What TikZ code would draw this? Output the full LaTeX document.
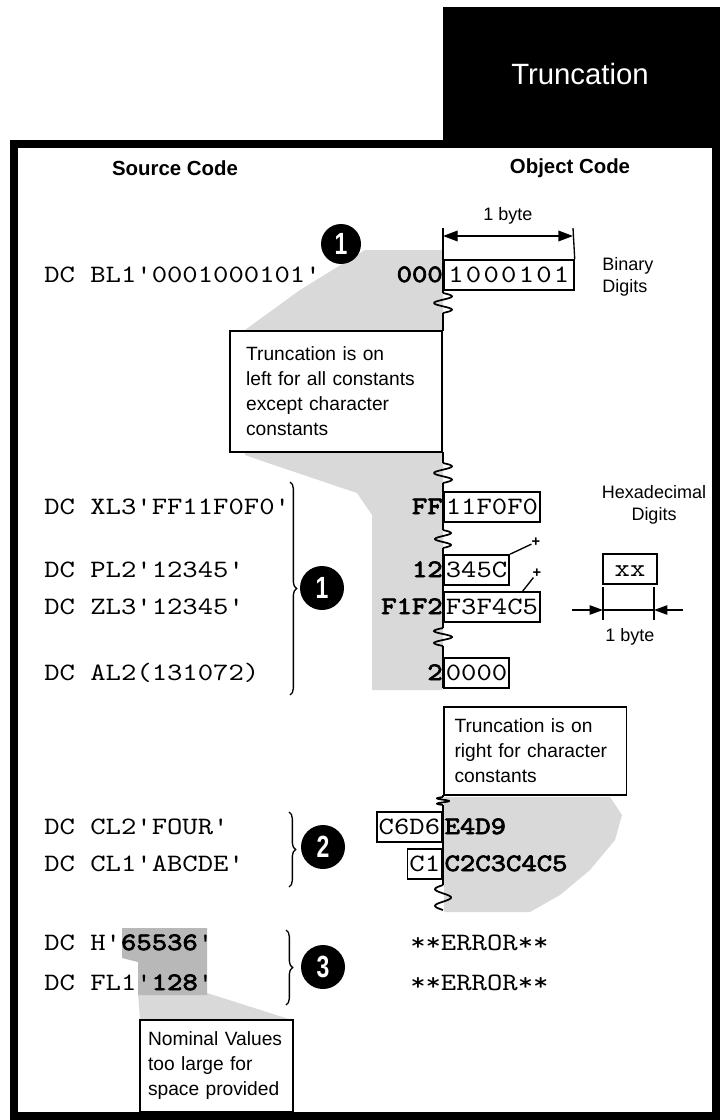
\documentclass[tikz,border=0pt]{standalone}
\usepackage{fontspec}
\setsansfont{Liberation Sans}
\setmonofont{lmmono10-regular.otf}[FakeStretch=1.17, BoldFont=lmmono10-regular.otf, BoldFeatures={FakeBold=3}]
\newfontfamily\numfont{Liberation Sans}[FakeStretch=0.75]
\usepackage{tikz}
\usetikzlibrary{arrows.meta,decorations.pathreplacing,positioning,calc}
\definecolor{stippled}{gray}{0.85}
\definecolor{stippledark}{gray}{0.72}

\begin{document}
\begin{tikzpicture}[x=0.75pt, y=-0.75pt,
    code/.style={font=\fontsize{18.75}{20}\selectfont\ttfamily, inner sep=0pt},
    src/.style={code, anchor=base west},
    cut/.style={font=\fontsize{18.75}{20}\selectfont\ttfamily\bfseries, inner sep=0pt, anchor=base east},
    tail/.style={font=\fontsize{18.75}{20}\selectfont\ttfamily\bfseries, inner xsep=1pt, inner ysep=0pt, anchor=base west},
    kept/.style={code, draw, line width=1.3pt, anchor=base west, inner xsep=1.5pt, inner ysep=1.5pt, text height=15pt, text depth=4.5pt},
    keptleft/.style={kept, anchor=base east},
    head/.style={font=\fontsize{15.3}{18}\selectfont\sffamily\bfseries},
    title/.style={text=white, font=\fontsize{22}{26}\selectfont\sffamily},
    note/.style={draw, line width=1.3pt, fill=white, align=left, inner ysep=0pt, font=\fontsize{14.4}{18.75}\selectfont\sffamily},
    small/.style={font=\fontsize{13.5}{17}\selectfont\sffamily, inner sep=0pt},
    plus/.style={font=\fontsize{11}{11}\selectfont\sffamily\bfseries, inner sep=0pt},
    numdot/.style={circle, fill=black, text=white, inner sep=0pt, minimum size=33pt, font=\fontsize{23}{23}\selectfont\numfont\bfseries},
    curly/.style={decorate, decoration={brace, amplitude=5pt}, line width=1pt},
    trunc/.style={line width=1.3pt},
    dim/.style={line width=1pt}
]
    \useasboundingbox (0,0) rectangle (720,1120);

    % Stippled zones
    \fill[stippled] (443,250) -- (365,250) -- (300,290) -- (245,330) -- (245,455) -- (265,462) -- (357,493) -- (372,515) -- (372,690) -- (443,690) -- cycle;
    \fill[stippled] (444,797) -- (610,797) -- (622,815) -- (615,840) -- (590,870) -- (560,895) -- (530,912) -- (444,912) -- cycle;
    \fill[stippled] (138,993) -- (207,993) -- (292,1020) -- (140,1020) -- cycle;
    \fill[stippledark] (122,928) -- (207,928) -- (207,995) -- (138,995) -- (138,962) -- (122,958) -- cycle;

    % Frame and title tab
    \draw[line width=5.5pt] (14,144) rectangle (716,1116);
    \fill (443,7) rectangle (720,146);
    \node[title] (title) at (580,74) {Truncation};

    % Column heads
    \node[head] (srchead) at (175,168) {Source Code};
    \node[head] (objhead) at (570,168) {Object Code};

    % Source statements
    \node[src] (bl1) at (44,282) {DC BL1'0001000101'};
    \node[src] (xl3) at (44,514) {DC XL3'FF11F0F0'};
    \node[src] (pl2) at (44,577) {DC PL2'12345'};
    \node[src] (zl3) at (44,614) {DC ZL3'12345'};
    \node[src] (al2) at (44,680) {DC AL2(131072)};
    \node[src] (cl2) at (44,834) {DC CL2'FOUR'};
    \node[src] (cl1) at (44,871) {DC CL1'ABCDE'};
    \node[src] (hval) at (44,950) {DC H'\textbf{65536}'};
    \node[src] (fl1) at (44,990) {DC FL1'\textbf{128}'};

    % Braces and numbered dots
    \draw[curly] (290,482) -- (290,695);
    \draw[curly] (289,812) -- (289,887);
    \draw[curly] (286,930) -- (286,1005);
    \node[numdot, minimum size=30pt] (onetop) at (341,244) {1};
    \node[numdot] (onemid) at (322,588) {1};
    \node[numdot] (two) at (323,847) {2};
    \node[numdot] (three) at (323,967) {3};

    % Notes
    \node[note, text width=135pt, inner xsep=12pt, minimum height=90.75pt, anchor=east] (leftnote) at (443,391.5)
        {Truncation is on\\left for all constants\\except character\\constants};
    \node[note, text width=121pt, inner xsep=8pt, minimum height=66pt, anchor=west] (rightnote) at (443,751)
        {Truncation is on\\right for character\\constants};
    \node[note, text width=102.75pt, inner xsep=6pt, minimum height=69pt] (nomnote) at (216.5,1066)
        {Nominal Values\\too large for\\space provided};

    % Truncation line with break marks
    \draw[trunc] (443,228) -- (443,293) (443,313) -- (443,331) (443,452) -- (443,463)
        (443,483) -- (443,530) (443,548) -- (443,628) (443,646) -- (443,688)
        (443,795) -- (443,797) (443,805) -- (443,885);
    \foreach \y/\l/\a in {293/20/9, 463/20/9, 530/18/8, 628/18/-9, 797/8/-6, 885/25/-8} {
        \draw[trunc] plot[domain=0:1, samples=30, smooth] ({443+\a*sin(540*\x)}, {\y+\l*\x});
    }

    % Object code: truncated digits in bold
    \node[cut] (bincut) at (443,282) {000};
    \node[kept, minimum width=97.5pt] (bin) at (443,282) {\addfontfeature{LetterSpace=9}1000101};
    \node[cut] (hexcut) at (443,514) {FF};
    \node[kept] (hex) at (443,514) {11F0F0};
    \node[cut] (pkcut) at (443,577) {12};
    \node[kept] (pk) at (443,577) {345C};
    \node[cut] (zncut) at (443,614) {F1F2};
    \node[kept] (zn) at (443,614) {F3F4C5};
    \node[cut] (adcut) at (443,680) {2};
    \node[kept] (ad) at (443,680) {0000};
    \node[keptleft] (fourkept) at (443,834) {C6D6};
    \node[tail] (fourcut) at (443,834) {E4D9};
    \node[keptleft] (abckept) at (443,871) {C1};
    \node[tail] (abccut) at (443,871) {C2C3C4C5};
    \node[src] (err1) at (410,950) {**ERROR**};
    \node[src] (err2) at (410,990) {**ERROR**};

    % Sign markers
    \node[plus] (plus1) at (536,542) {+};
    \node[plus] (plus2) at (537,573) {+};
    \coordinate (zntop) at (522,592);
    \draw[dim] (pk.north east) -- (plus1);
    \draw[dim] (zntop) -- (plus2);

    % One byte, binary
    \coordinate (bytel) at (443,228);
    \coordinate (byter) at (573,228);
    \draw[dim] (byter) -- (bin.north east);
    \draw[dim, {Triangle[length=11pt,width=8pt]}-{Triangle[length=11pt,width=8pt]}] ($(bytel)+(0,8)$) -- ($(byter)+(0,8)$);
    \node[small] (bytetop) at (508,216) {1 byte};
    \node[small, anchor=west, align=left] (binlbl) at (602,277) {Binary\\Digits};

    % One byte, hexadecimal
    \node[small, align=center] (hexlbl) at (654,505) {Hexadecimal\\Digits};
    \node[kept, anchor=center, minimum width=41pt] (xx) at (630,569) {xx};
    \coordinate (xxl) at (603,587);
    \coordinate (xxr) at (654,587);
    \draw[dim] (xxl) -- ++(0,33) (xxr) -- ++(0,33);
    \draw[dim, -{Triangle[length=10pt,width=7pt]}] ($(xxl)+(-31,23)$) -- ($(xxl)+(0,23)$);
    \draw[dim] ($(xxl)+(0,23)$) -- ($(xxr)+(0,23)$);
    \draw[dim, -{Triangle[length=10pt,width=7pt]}] ($(xxr)+(29,23)$) -- ($(xxr)+(0,23)$);
    \node[small] (bytebot) at (630,637) {1 byte};

\end{tikzpicture}
\end{document}
